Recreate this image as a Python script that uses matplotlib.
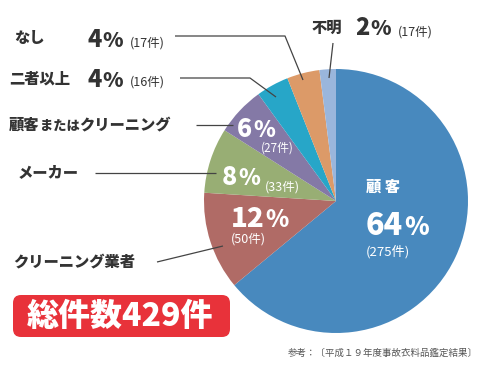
import matplotlib
matplotlib.use("Agg")
import matplotlib.pyplot as plt
from matplotlib.patches import FancyBboxPatch

plt.rcParams['font.family'] = ['Noto Sans CJK JP', 'DejaVu Sans']

# ---- data ----
categories = ["顧客", "クリーニング業者", "メーカー", "顧客またはクリーニング", "二者以上", "なし", "不明"]
percents = [64, 12, 8, 6, 4, 4, 2]
counts = [275, 50, 33, 27, 16, 17, 17]
colors = ["#4889be", "#b06b66", "#98ae74", "#8479a6", "#27a6c8", "#dc9a68", "#9ab6dc"]
total_label = "総件数429件"
source_note = "参考：〔平成１９年度事故衣料品鑑定結果〕"

W, H = 490, 371
fig = plt.figure(figsize=(W / 100, H / 100), dpi=100)
ax = fig.add_axes([0, 0, 1, 1])
ax.set_xlim(0, W)
ax.set_ylim(0, H)
ax.set_aspect('equal')
ax.axis('off')

def Y(py):
    return H - py

# pie
ax.pie(percents, colors=colors, startangle=90, counterclock=False,
       center=(336, Y(201)), radius=132, wedgeprops=dict(linewidth=0))
ax.set_xlim(0, W)
ax.set_ylim(0, H)

DARK = "#333333"
LINE = "#444444"
BW = 900
renderer = fig.canvas.get_renderer()

def pct_text(x, base_py, num, nsize, psize, color):
    t = ax.text(x, Y(base_py), str(num), fontsize=nsize, fontweight=BW,
                color=color, ha='left', va='baseline')
    bb = t.get_window_extent(renderer=renderer)
    ax.text(bb.x1 + 1, Y(base_py), "%", fontsize=psize, fontweight=BW,
            color=color, ha='left', va='baseline')

def cnt_text(x, cy, n, size, color):
    ax.text(x, Y(cy), f"({n}件)", fontsize=size, color=color, ha='left', va='center')

def line(pts):
    xs = [p[0] for p in pts]
    ys = [Y(p[1]) for p in pts]
    ax.plot(xs, ys, color=LINE, lw=0.9, solid_capstyle='butt')

# outside labels
# なし
ax.text(14, Y(39), categories[5], fontsize=11, fontweight=BW, color=DARK, ha='left', va='center')
pct_text(87, 47, percents[5], 17, 15, DARK)
cnt_text(130, 43, counts[5], 9, DARK)
line([(175, 36), (285, 36), (303, 80)])

# 二者以上
ax.text(9, Y(79), categories[4], fontsize=11, fontweight=BW, color=DARK, ha='left', va='center')
pct_text(87, 87, percents[4], 17, 15, DARK)
cnt_text(130, 82, counts[4], 9, DARK)
line([(180, 78), (250, 78), (276, 97)])

# 顧客またはクリーニング
t1 = ax.text(9, Y(125), "顧客", fontsize=11, fontweight=BW, color=DARK, ha='left', va='center')
bb = t1.get_window_extent(renderer=renderer)
t2 = ax.text(bb.x1, Y(126), "または", fontsize=9.5, fontweight=BW, color=DARK, ha='left', va='center')
bb = t2.get_window_extent(renderer=renderer)
ax.text(bb.x1, Y(125), "クリーニング", fontsize=11, fontweight=BW, color=DARK, ha='left', va='center')
line([(196, 125), (233, 125)])

# メーカー
ax.text(18, Y(173), categories[2], fontsize=11, fontweight=BW, color=DARK, ha='left', va='center')
line([(95, 173), (216, 173)])

# クリーニング業者
ax.text(13, Y(262), categories[1], fontsize=11, fontweight=BW, color=DARK, ha='left', va='center')
line([(157, 262), (223, 246)])

# 不明
ax.text(312, Y(28), categories[6], fontsize=11, fontweight=BW, color=DARK, ha='left', va='center')
pct_text(355, 35, percents[6], 17, 15, DARK)
cnt_text(398, 32, counts[6], 9, DARK)
line([(333, 43), (329, 78)])

# inside labels
WHITE = "white"
pct_text(237, 137, percents[3], 18, 16, WHITE)
cnt_text(261, 148, counts[3], 8.5, WHITE)

pct_text(222, 185, percents[2], 18, 16, WHITE)
cnt_text(265, 187, counts[2], 9, WHITE)

pct_text(231, 227, percents[1], 20, 17, WHITE)
cnt_text(231, 239, counts[1], 9, WHITE)

ax.text(366, Y(187), "顧 客", fontsize=11, fontweight=BW, color=WHITE, ha='left', va='center')
pct_text(366, 235, percents[0], 22, 18, WHITE)
cnt_text(366, 252, counts[0], 9.5, WHITE)

# total box
box = FancyBboxPatch((13 + 8, Y(337) + 8), 217 - 16, 42 - 16,
                     boxstyle="round,pad=8", facecolor="#e8323a", edgecolor='none')
ax.add_patch(box)
ax.text(120, Y(316), total_label, fontsize=23, fontweight=BW, color=WHITE,
        ha='center', va='center')

# source note
ax.text(478, Y(353), source_note, fontsize=6.8, color="#555555", ha='right', va='center')

fig.savefig("out.png", dpi=100)
